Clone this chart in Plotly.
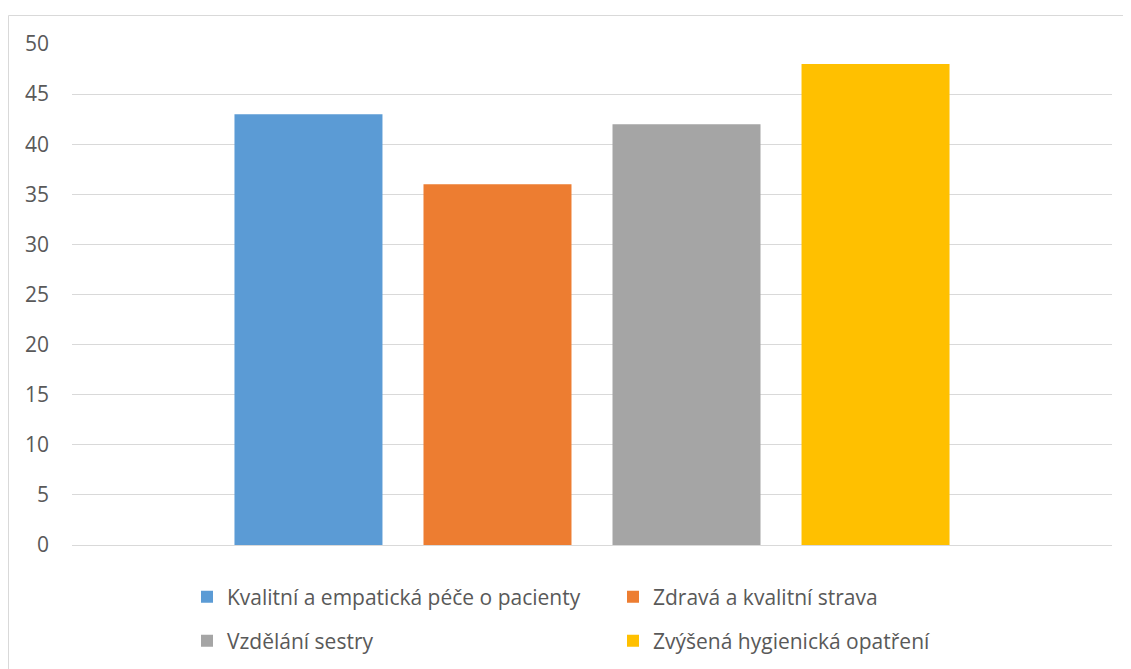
import plotly.graph_objects as go

categories = [""]
series_names = [
    "Kvalitní a empatická péče o pacienty",
    "Zdravá a kvalitní strava",
    "Vzdělání sestry",
    "Zvýšená hygienická opatření",
]
series_values = [43, 36, 42, 48]
series_colors = ["#5B9BD5", "#ED7D31", "#A5A5A5", "#FFC000"]
y_ticks = [0, 5, 10, 15, 20, 25, 30, 35, 40, 45, 50]

FONT = "Open Sans"
TXT = "#595959"

fig = go.Figure()
legends = ["legend", "legend", "legend2", "legend2"]
for name, val, col, lg in zip(series_names, series_values, series_colors, legends):
    fig.add_trace(go.Bar(x=categories, y=[val], name=name, marker_color=col,
                         marker_line_width=0, legend=lg))

W, H = 1131, 669
OFF = 8  # page body margin
L, R, T, B = 64, 27, 36, 132
pw = W - L - R
ph = H - T - B

def px2x(px):
    return (px - L) / pw

def py2y(py):
    return (H - B - py) / ph

legend_common = dict(
    orientation="h", xanchor="left", yanchor="middle",
    xref="container", yref="container",
    font=dict(family=FONT, size=21, color=TXT),
    entrywidth=381, entrywidthmode="pixels",
    bgcolor="rgba(0,0,0,0)", itemclick=False,
)

fig.update_layout(
    width=W, height=H,
    margin=dict(l=L, r=R, t=T, b=B, autoexpand=False),
    paper_bgcolor="white", plot_bgcolor="white",
    barmode="group", bargap=0.273, bargroupgap=0.217,
    showlegend=True,
    legend=dict(x=179 / W, y=1 - 589 / H, **legend_common),
    legend2=dict(x=179 / W, y=1 - 633 / H, **legend_common),
    xaxis=dict(showticklabels=False, showgrid=False, zeroline=False,
               showline=False, ticks="", automargin=False),
    yaxis=dict(range=[0, 50], tickvals=y_ticks, showgrid=True,
               gridcolor="#D9D9D9", gridwidth=1, zeroline=True,
               zerolinecolor="#D9D9D9", zerolinewidth=1, showline=False,
               ticks="", ticklabelstandoff=22, automargin=False,
               tickfont=dict(family=FONT, size=21, color=TXT)),
    shapes=[dict(type="rect", xref="paper", yref="paper",
                 x0=px2x(0.5), x1=px2x(1140), y0=py2y(7.5), y1=py2y(680),
                 line=dict(color="#D9D9D9", width=1), fillcolor="rgba(0,0,0,0)",
                 layer="below")],
)

fig.write_html("out.html")
